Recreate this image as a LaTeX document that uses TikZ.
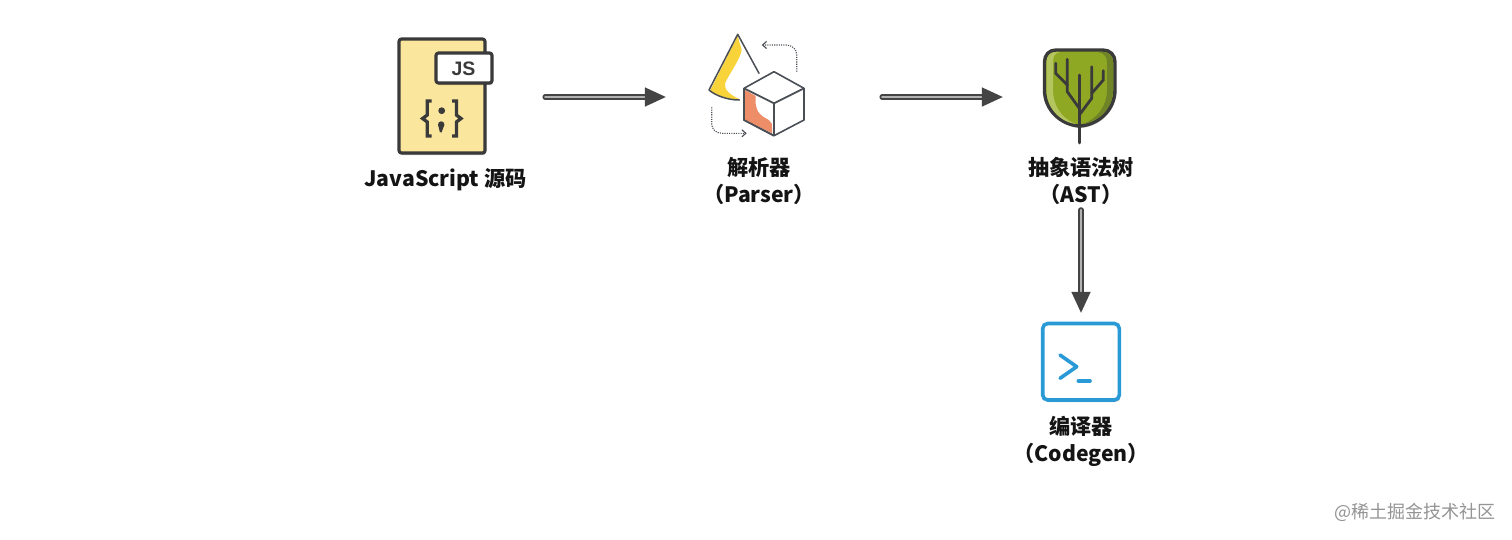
\documentclass[tikz,border=0pt]{standalone}
\usepackage{fontspec}
\setmainfont{Noto Sans CJK SC}
\newfontfamily\jsfont{Liberation Sans}
\usetikzlibrary{arrows.meta,shadows}
\definecolor{ink}{HTML}{3A3A3A}
\definecolor{paper}{HTML}{FBE69E}
\definecolor{flow}{HTML}{444444}
\definecolor{cubeink}{HTML}{4A4F55}
\definecolor{blueink}{HTML}{2A9AD6}
\definecolor{leaf}{HTML}{8FA823}
\definecolor{leaflight}{HTML}{B4C560}
\definecolor{leafdark}{HTML}{6F8426}
\definecolor{sun}{HTML}{F8D33A}
\definecolor{clay}{HTML}{EE8E68}
\tikzset{
  x=1pt,y=-1pt,
  softshadow/.style={drop shadow={shadow xshift=1pt,shadow yshift=-2pt,opacity=.25,fill=black}},
  label/.style={font=\fontsize{21.2}{27}\selectfont\bfseries,text=black!92,align=center,inner sep=0pt},
  anchorbox/.style={inner sep=0pt,minimum height=10pt},
  flowshade/.style={draw=black,opacity=.16,line width=6pt,line cap=round,yshift=-2pt},
  flowarrow/.style={draw=flow,line width=1.7pt,double=black!30,double distance=2pt,line cap=round,-{Triangle[length=21pt,width=19pt,fill=flow]}},
  inkline/.style={draw=ink,line width=3.2pt,line cap=round,line join=round},
  dotted arrow/.style={draw=cubeink,line width=1.1pt,dash pattern=on 1.1pt off 1.2pt,-{Straight Barb[length=4pt,width=7pt]}},
}
\begin{document}
\begin{tikzpicture}
\useasboundingbox (0,0) rectangle (1512,539);
\fill[white] (0,0) rectangle (1512,539);
% anchors for connectors
\node[anchorbox,minimum width=95pt] (jsicon) at (445.5,97) {};
\node[anchorbox,minimum width=98pt] (parsericon) at (756,97) {};
\node[anchorbox,minimum width=73pt] (asticon) at (1079.5,97) {};
\node[inner sep=0pt,minimum width=77pt,minimum height=77pt] (codeicon) at (1081,361.5) {};

% JS file icon
\draw[inkline,fill=paper,rounded corners=2.5pt,softshadow] (399,39) rectangle (485,153);
\draw[inkline,fill=white,rounded corners=2.5pt,softshadow] (436,53) rectangle (492,83);
\node[font=\jsfont\bfseries\fontsize{19.5}{19.5}\selectfont,text=ink,inner sep=0pt] (jstag) at (463.5,69) {JS};
\draw[ink,line width=3.3pt,line join=miter] (431.7,101) -- (427.3,101) -- (427.3,115) -- (422.6,118.5) -- (427.3,122) -- (427.3,136) -- (431.7,136);
\draw[ink,line width=3.3pt,line join=miter] (452,101) -- (456.4,101) -- (456.4,115) -- (461,118.5) -- (456.4,122) -- (456.4,136) -- (452,136);
\fill[ink] (441.7,110.7) circle (3.4pt);
\fill[ink] (441.2,124.5) circle (3.2pt);
\fill[ink] (444.3,125) -- (441.5,132.5) -- (439.8,132) -- (438.2,125) -- cycle;

% Parser icon
\fill[sun] (737.7,36) -- (741.7,50) .. controls (740,60) and (729,74) .. (725,83.3) .. controls (724,90) and (730,95) .. (740,99.3) .. controls (730,100) and (718,96) .. (710,90.7) -- cycle;
\draw[cubeink,line width=1.5pt,line join=round,line cap=round] (759,73.3) -- (737.7,34.3) -- (709,90) .. controls (716,96) and (728,100) .. (739.3,100);
\draw[cubeink,line width=1.6pt,line join=round,fill=white] (774,71.7) -- (804,88.3) -- (804,120) -- (774,135.7) -- (744,120) -- (744,88.3) -- cycle;
\fill[clay] (745,90) -- (755.7,96) .. controls (755.5,102) and (755,105) .. (756.7,108.3) .. controls (758,113) and (761,115) .. (763,116.7) .. controls (767,119) and (770,120) .. (771.7,123.3) -- (772.3,133.3) -- (745,120) -- cycle;
\draw[cubeink,line width=1.7pt,line join=round] (744,88.3) -- (774,103.3) -- (804,88.3) (774,103.3) -- (774,135.7) (744,88.3) -- (744,120) -- (774,135.7);
\draw[dotted arrow] (796.7,71.7) -- (796.7,55) .. controls (796.7,49) and (792,45) .. (786,45) -- (761.7,45);
\draw[dotted arrow] (711.7,107.3) -- (711.7,124) .. controls (711.7,129) and (716,133.3) .. (722,133.3) -- (746.7,133.3);

% AST tree icon
\path[draw=ink,line width=3.4pt,fill=leaf,line join=round,softshadow] (1056,50) -- (1103,50) .. controls (1110,50) and (1115,55) .. (1115,62) -- (1115,90) .. controls (1115,110) and (1098,125) .. (1079.5,126) .. controls (1061,125) and (1044.5,110) .. (1044.5,90) -- (1044.5,62) .. controls (1044.5,55) and (1049,50) .. (1056,50) -- cycle;
\fill[leaflight] (1056,52) .. controls (1050,52) and (1046.5,56) .. (1046.5,62) -- (1046.5,90) .. controls (1046.5,108) and (1060,122) .. (1076,124) .. controls (1062,119) and (1053,106) .. (1053,90) -- (1053,62) .. controls (1053,56) and (1055,53) .. (1060,52) -- cycle;
\fill[leafdark] (1103,52) .. controls (1109,52) and (1113,56) .. (1113,62) -- (1113,90) .. controls (1113,108) and (1099,122) .. (1083,124) .. controls (1097,119) and (1107,106) .. (1107,90) -- (1107,62) .. controls (1107,57) and (1104,53) .. (1098,52) -- cycle;
\draw[inkline,line width=2.8pt,line join=miter] (1079.3,143) -- (1079.3,75);
\draw[inkline,line width=2.8pt,line join=miter] (1079.3,108.3) -- (1067.3,91.7) -- (1067.3,59.3);
\draw[inkline,line width=2.8pt,line join=miter] (1067.3,85) -- (1055.7,73.3) -- (1055.7,63.3);
\draw[inkline,line width=2.8pt,line join=miter] (1079.3,115) -- (1091.7,98.3) -- (1091.7,66.7);
\draw[inkline,line width=2.8pt,line join=miter] (1091.7,93.3) -- (1103.3,80) -- (1103.3,70.7);

% Codegen icon
\draw[draw=blueink,line width=3.6pt,rounded corners=5pt,fill=white,softshadow] (1042.7,323.5) rectangle (1119.3,400);
\draw[blueink,line width=3.6pt,line cap=round,line join=round] (1060,355) -- (1076.7,366.7) -- (1060,378.3);
\draw[blueink,line width=3.6pt,line cap=round] (1078.3,381) -- (1090,381);

% Labels
\node[label] (jslabel) at (445.5,180) {JavaScript 源码};
\node[label] (parserlabel) at (759,181) {解析器\\（Parser）};
\node[label] (astlabel) at (1081,181) {抽象语法树\\（AST）};
\node[label] (codelabel) at (1081,441) {编译器\\（Codegen）};
\node[font=\fontsize{18}{18}\selectfont,text=black!42,inner sep=0pt] (mark) at (1414.5,512) {@稀土掘金技术社区};

% Connectors
\draw[flowshade,shorten <=52pt,shorten >=50pt] (jsicon.east) -- (parsericon.west);
\draw[flowshade,shorten <=77pt,shorten >=50pt] (parsericon.east) -- (asticon.west);
\draw[flowarrow,shorten <=52pt,shorten >=41pt] (jsicon.east) -- (parsericon.west);
\draw[flowarrow,shorten <=77pt,shorten >=40pt] (parsericon.east) -- (asticon.west);
\draw[flowarrow,shorten <=5pt,shorten >=10pt] (astlabel.south) -- (codeicon.north -| astlabel.south);
\end{tikzpicture}
\end{document}
